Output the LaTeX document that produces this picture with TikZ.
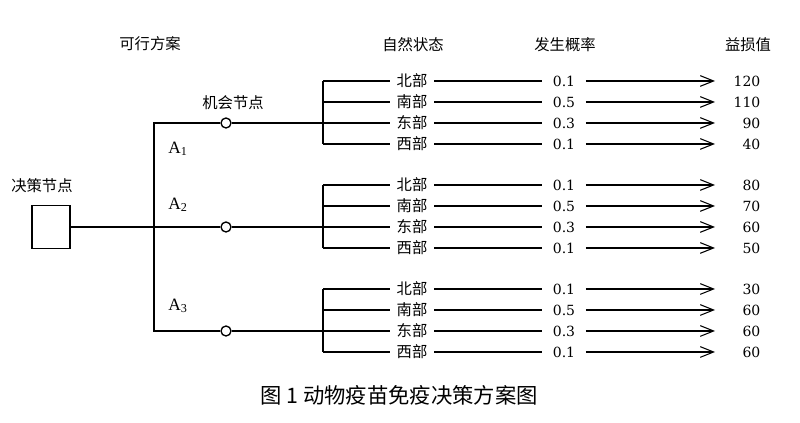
\documentclass[tikz,border=0pt]{standalone}
\usepackage{fontspec}
\newfontfamily\cjk{Noto Sans CJK SC}
\newfontfamily\numfont{DejaVu Serif}
\newfontfamily\altfont{Liberation Serif}
\usetikzlibrary{arrows.meta}

\tikzset{every picture/.style={line width=1pt}}
\tikzset{
  head/.style={font=\cjk\fontsize{11.5}{13}\selectfont, inner sep=0.75pt},
  statelbl/.style={font=\cjk\fontsize{11.5}{13}\selectfont, inner xsep=4.5pt, inner ysep=0.75pt},
  problbl/.style={font=\numfont\fontsize{10.5}{13}\selectfont, inner xsep=7.5pt, inner ysep=0.75pt},
  valuelbl/.style={font=\numfont\fontsize{10.5}{13}\selectfont, inner sep=0.75pt, anchor=east},
  altlbl/.style={font=\altfont\fontsize{13}{15}\selectfont, inner sep=0.75pt},
  decnode/.style={draw, minimum width=28.5pt, minimum height=32pt, inner sep=0pt},
  chancenode/.style={draw, circle, fill=white, minimum size=7.5pt, inner sep=0pt},
  outcome/.style={-{Straight Barb[length=10pt, width=8pt, line width=0.8pt]}}
}

\begin{document}
\begin{tikzpicture}[x=0.75pt,y=0.75pt,yscale=-1,xscale=1]
\path[use as bounding box] (0,0) rectangle (800,423);

% Headers
\draw (150,44) node [head] (hplan) {可行方案};
\draw (413,45) node [head] (hstate) {自然状态};
\draw (565,45) node [head] (hprob) {发生概率};
\draw (748,45) node [head] (hval) {益损值};

% Decision node
\draw (51,227) node [decnode] (dec) {};
\draw (42,186) node [head] (hdec) {决策节点};

% Chance nodes
\draw (226,123) node [chancenode] (c1) {};
\draw (226,227) node [chancenode] (c2) {};
\draw (226,331) node [chancenode] (c3) {};
\draw (233,103) node [head] (hchance) {机会节点};

% Trunk
\coordinate (t1) at (154,123);
\coordinate (t3) at (154,331);
\draw (c1) -- (t1) -- (t3) -- (c3);
\draw (dec) -- (c2);

% Alternatives
\draw (178,149) node [altlbl] (a1) {A\textsubscript{1}};
\draw (178,205) node [altlbl] (a2) {A\textsubscript{2}};
\draw (178,306) node [altlbl] (a3) {A\textsubscript{3}};

% States, probabilities, values
\foreach \g/\yy/\va/\vb/\vc/\vd in {1/81/120/110/90/40, 2/185/80/70/60/50, 3/289/30/60/60/60} {
  \foreach \r/\st/\pr/\v in {0/北部/0.1/\va, 1/南部/0.5/\vb, 2/东部/0.3/\vc, 3/西部/0.1/\vd} {
    \coordinate (b\g\r) at (323,\yy+\r*21);
    \node [statelbl] (s\g\r) at (412,\yy+\r*21) {\st};
    \node [problbl] (p\g\r) at (564,\yy+\r*21) {\pr};
    \coordinate (e\g\r) at (715,\yy+\r*21);
    \node [valuelbl] (v\g\r) at (762,\yy+\r*21) {\v};
    \draw (b\g\r) -- (s\g\r);
    \draw (s\g\r) -- (p\g\r);
    \draw [outcome] (p\g\r) -- (e\g\r);
  }
  \draw (b\g0) -- (b\g3);
  \draw (c\g) -- (b\g2);
}

% Caption
\draw (399,395) node [font=\cjk\fontsize{16}{18}\selectfont, inner sep=0.75pt] (cap) {图 1 动物疫苗免疫决策方案图};

\end{tikzpicture}
\end{document}
